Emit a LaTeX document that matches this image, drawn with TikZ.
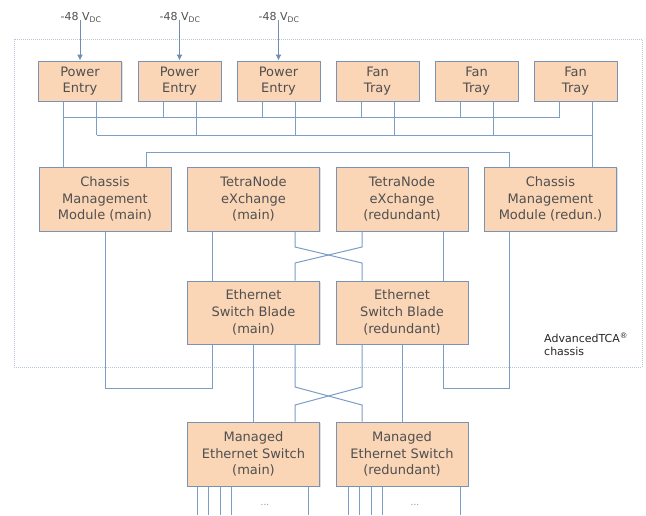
\documentclass[tikz,border=0pt]{standalone}
\usepackage{fontspec}
\setmainfont{DejaVu Sans}
\usetikzlibrary{arrows.meta,shadows}
\definecolor{boxfill}{HTML}{FAD5B6}
\definecolor{boxline}{HTML}{7A93B4}
\definecolor{wirec}{HTML}{7C9DC6}
\definecolor{framec}{HTML}{B4C6D8}
\definecolor{txt}{HTML}{505050}
\begin{document}
\begin{tikzpicture}[x=1pt,y=-1pt,
  box/.style={draw=boxline, fill=boxfill, line width=1pt, text=txt, align=center,
    inner sep=0pt, font=\fontsize{13}{16.7}\selectfont,
    execute at begin node={\rule{0pt}{14pt}},
    drop shadow={shadow xshift=1pt,shadow yshift=-1.2pt,opacity=0.25}},
  topbox/.style={box, minimum width=83pt, minimum height=40pt},
  midbox/.style={box, minimum width=132pt, minimum height=64pt},
  wire/.style={draw=wirec, line width=1pt},
  vlabel/.style={text=txt, font=\fontsize{11}{13}\selectfont, inner sep=1pt},
  feed/.style={draw=wirec!90!black, line width=1pt, -{Latex[length=6pt,width=6pt]}}]
\useasboundingbox (0,0) rectangle (646,515);
% chassis frame
\draw[framec, line width=0.8pt, dash pattern=on 1pt off 1pt] (14,39) rectangle (642,367);
\node[anchor=north west, font=\fontsize{11}{12.5}\selectfont, text=black!85, align=left, inner sep=0pt] (atca) at (544,333) {AdvancedTCA\textsuperscript{®}\\chassis};
% top row
\node[topbox] (pe1) at (80,81) {Power\\Entry};
\node[topbox] (pe2) at (179.5,81) {Power\\Entry};
\node[topbox] (pe3) at (278.5,81) {Power\\Entry};
\node[topbox] (ft1) at (377.5,81) {Fan\\Tray};
\node[topbox] (ft2) at (476.5,81) {Fan\\Tray};
\node[topbox] (ft3) at (575.5,81) {Fan\\Tray};
% middle row
\node[midbox] (cmmm) at (105,199) {Chassis\\Management\\Module (main)};
\node[midbox] (tnxm) at (253.5,199) {TetraNode\\eXchange\\(main)};
\node[midbox] (tnxr) at (402,199) {TetraNode\\eXchange\\(redundant)};
\node[midbox] (cmmr) at (550.5,199) {Chassis\\Management\\Module (redun.)};
% switch blades
\node[midbox, minimum height=63pt] (esbm) at (253.5,312.5) {Ethernet\\Switch Blade\\(main)};
\node[midbox, minimum height=63pt] (esbr) at (402,312.5) {Ethernet\\Switch Blade\\(redundant)};
% managed switches
\node[midbox] (mesm) at (253.5,454) {Managed\\Ethernet Switch\\(main)};
\node[midbox] (mesr) at (402,454) {Managed\\Ethernet Switch\\(redundant)};
% supply labels
\node[vlabel] (v1) at (81,17) {-48 V\textsubscript{DC}};
\node[vlabel] (v2) at (180,17) {-48 V\textsubscript{DC}};
\node[vlabel] (v3) at (279,17) {-48 V\textsubscript{DC}};
\draw[feed] ([yshift=3pt]v1.south -| pe1.north) -- (pe1.north);
\draw[feed] ([yshift=3pt]v2.south -| pe2.north) -- (pe2.north);
\draw[feed] ([yshift=3pt]v3.south -| pe3.north) -- (pe3.north);
% helper levels
\coordinate (busA) at (0,117.5);
\coordinate (busB) at (0,135);
\coordinate (busC) at (0,152);
\coordinate (xa) at (0,247);
\coordinate (xb) at (0,263);
\coordinate (xc) at (0,387);
\coordinate (xd) at (0,405);
\coordinate (low) at (0,388);
\coordinate (bot) at (0,515);
% power and fan buses
\foreach \n in {pe1,pe2,pe3,ft1,ft2,ft3} {
  \draw[wire] ([xshift=-16.5pt]\n.south) -- ([xshift=-16.5pt]\n.south |- busA);
  \draw[wire] ([xshift=16.5pt]\n.south) -- ([xshift=16.5pt]\n.south |- busB);
}
\draw[wire] ([xshift=-16.5pt]pe1.south |- busA) -- ([xshift=-16.5pt]ft3.south |- busA);
\draw[wire] ([xshift=16.5pt]pe1.south |- busB) -- ([xshift=16.5pt]ft3.south |- busB);
\draw[wire] ([xshift=-16.5pt]pe1.south) -- ([xshift=-16.5pt]pe1.south |- cmmm.north);
\draw[wire] ([xshift=16.5pt]ft3.south) -- ([xshift=16.5pt]ft3.south |- cmmr.north);
\draw[wire] ([xshift=41pt]cmmm.north) |- ([xshift=-41.5pt]cmmr.north |- busC) -- ([xshift=-41.5pt]cmmr.north);
% CMM to switch blades
\draw[wire] (cmmm.south) |- ([xshift=-41.5pt]esbm.south |- low) -- ([xshift=-41.5pt]esbm.south);
\draw[wire] ([xshift=-41.5pt]cmmr.south) |- ([xshift=41pt]esbr.south |- low) -- ([xshift=41pt]esbr.south);
% TNX to switch blades
\draw[wire] ([xshift=-41.5pt]tnxm.south) -- ([xshift=-41.5pt]esbm.north);
\draw[wire] ([xshift=41pt]tnxr.south) -- ([xshift=41pt]esbr.north);
\draw[wire] ([xshift=41.5pt]tnxm.south) -- ([xshift=41.5pt]tnxm.south |- xa) -- ([xshift=-40pt]esbr.north |- xb) -- ([xshift=-40pt]esbr.north);
\draw[wire] ([xshift=-40pt]tnxr.south) -- ([xshift=-40pt]tnxr.south |- xa) -- ([xshift=41.5pt]esbm.north |- xb) -- ([xshift=41.5pt]esbm.north);
% switch blades to managed switches
\draw[wire] (esbm.south) -- (mesm.north);
\draw[wire] (esbr.south) -- (mesr.north);
\draw[wire] ([xshift=41.5pt]esbm.south) -- ([xshift=41.5pt]esbm.south |- xc) -- ([xshift=-40pt]mesr.north |- xd) -- ([xshift=-40pt]mesr.north);
\draw[wire] ([xshift=-40pt]esbr.south) -- ([xshift=-40pt]esbr.south |- xc) -- ([xshift=41.5pt]mesm.north |- xd) -- ([xshift=41.5pt]mesm.north);
% outgoing ports
\foreach \d in {-56.5,-45.5,-33.5,-22.5,54.5}
  \draw[wire] ([xshift=\d pt]mesm.south) -- ([xshift=\d pt]mesm.south |- bot);
\foreach \d in {-54,-43,-31,-20,58}
  \draw[wire] ([xshift=\d pt]mesr.south) -- ([xshift=\d pt]mesr.south |- bot);
\node[text=black!45, font=\fontsize{9}{10}\selectfont, inner sep=0pt] (dm) at (265,505) {...};
\node[text=black!45, font=\fontsize{9}{10}\selectfont, inner sep=0pt] (dr) at (415,505) {...};
\end{tikzpicture}
\end{document}
